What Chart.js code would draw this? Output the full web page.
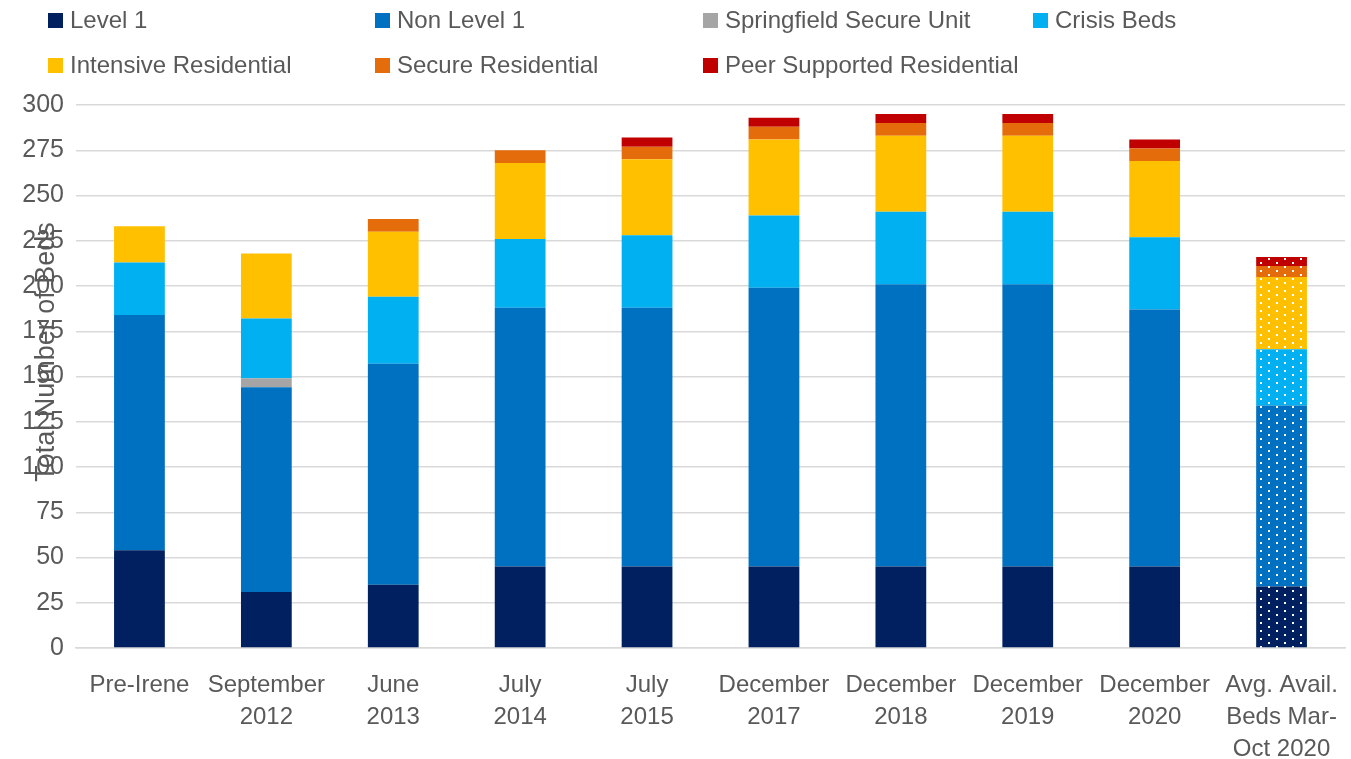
<!DOCTYPE html>
<html>
<head>
<meta charset="utf-8">
<title>Total Number of Beds</title>
<script src="https://cdn.jsdelivr.net/npm/chart.js@4/dist/chart.umd.min.js"></script>
<style>
  html, body { margin: 0; padding: 0; background: #ffffff; }
  canvas { display: block; }
</style>
</head>
<body>
<canvas id="beds" width="1351" height="759"></canvas>
<script>
// Bed counts by program type, stacked per period
const categories = [
  "Pre-Irene",
  ["September", "2012"],
  ["June", "2013"],
  ["July", "2014"],
  ["July", "2015"],
  ["December", "2017"],
  ["December", "2018"],
  ["December", "2019"],
  ["December", "2020"],
  ["Avg. Avail.", "Beds Mar-", "Oct 2020"]
];
const level1      = [54, 31, 35, 45, 45, 45, 45, 45, 45, 34];
const nonLevel1   = [130, 113, 122, 143, 143, 154, 156, 156, 142, 100];
const springfield = [null, 5, null, null, null, null, null, null, null, null];
const crisisBeds  = [29, 33, 37, 38, 40, 40, 40, 40, 40, 31];
const intensive   = [20, 36, 36, 42, 42, 42, 42, 42, 42, 40];
const secure      = [null, null, 7, 7, 7, 7, 7, 7, 7, 6];
const peer        = [null, null, null, null, 5, 5, 5, 5, 5, 5];
const yTicks      = [0, 25, 50, 75, 100, 125, 150, 175, 200, 225, 250, 275, 300];
const yTitle      = "Total Number of Beds";

const FONT = "'Liberation Sans', Arial, sans-serif";
const TEXT = "#595959";
const GRID = "#d9d9d9";

const series = [
  { label: "Level 1", data: level1, color: "#002060" },
  { label: "Non Level 1", data: nonLevel1, color: "#0070C0" },
  { label: "Springfield Secure Unit", data: springfield, color: "#A5A5A5" },
  { label: "Crisis Beds", data: crisisBeds, color: "#00B0F0" },
  { label: "Intensive Residential", data: intensive, color: "#FFC000" },
  { label: "Secure Residential", data: secure, color: "#E46C0A" },
  { label: "Peer Supported Residential", data: peer, color: "#C00000" }
];

// White dotted fill used for the average-availability column
function dotted(color) {
  const tile = document.createElement("canvas");
  tile.width = 16; tile.height = 8;
  const t = tile.getContext("2d");
  t.fillStyle = color;
  t.fillRect(0, 0, 16, 8);
  t.fillStyle = "#ffffff";
  t.fillRect(4, 2, 2, 2);
  t.fillRect(12, 6, 2, 2);
  return t.createPattern(tile, "repeat");
}

const lastIndex = categories.length - 1;
const datasets = series.map(s => ({
  label: s.label,
  data: s.data,
  backgroundColor: categories.map((_, i) => i === lastIndex ? dotted(s.color) : s.color),
  legendColor: s.color,
  borderWidth: 0,
  categoryPercentage: 1.0,
  barPercentage: 0.4
}));

// Legend laid out as a two-row grid above the plot
const legendGrid = {
  id: "legendGrid",
  afterDraw(chart) {
    const ctx = chart.ctx;
    const cols = [48, 375, 703, 1033];
    const rows = [20, 65];
    ctx.save();
    ctx.font = "24px " + FONT;
    ctx.textBaseline = "middle";
    ctx.textAlign = "left";
    chart.data.datasets.forEach((ds, i) => {
      const x = cols[i < 4 ? i : i - 4];
      const y = rows[i < 4 ? 0 : 1];
      ctx.fillStyle = ds.legendColor;
      ctx.fillRect(x, y - 7, 15, 15);
      ctx.fillStyle = TEXT;
      ctx.fillText(ds.label, x + 22, y + 1);
    });
    ctx.restore();
  }
};

// Rotated y-axis title, drawn over the tick labels
const axisTitle = {
  id: "axisTitle",
  afterDraw(chart) {
    const ctx = chart.ctx;
    ctx.save();
    ctx.translate(47, 352);
    ctx.rotate(-Math.PI / 2);
    ctx.font = "27px " + FONT;
    ctx.fillStyle = TEXT;
    ctx.textAlign = "center";
    ctx.textBaseline = "middle";
    ctx.fillText(yTitle, 0, 0);
    ctx.restore();
  }
};

new Chart(document.getElementById("beds"), {
  type: "bar",
  data: { labels: categories, datasets },
  plugins: [legendGrid, axisTitle],
  options: {
    responsive: false,
    animation: false,
    layout: { padding: { left: 0, right: 6, top: 105, bottom: 0 } },
    plugins: { legend: { display: false }, tooltip: { enabled: false } },
    scales: {
      x: {
        stacked: true,
        grid: { display: false, drawTicks: false },
        border: { display: true, color: GRID, width: 1.5 },
        ticks: {
          color: TEXT,
          font: { family: FONT, size: 24, lineHeight: 1.34 },
          padding: 21,
          maxRotation: 0,
          autoSkip: false
        },
        afterFit(scale) {
          scale.height = 111;
          scale.paddingLeft = 0;
          scale.paddingRight = 0;
        }
      },
      y: {
        stacked: true,
        min: 0,
        max: 300,
        afterBuildTicks(scale) { scale.ticks = yTicks.map(v => ({ value: v })); },
        grid: { color: GRID, lineWidth: 1.5, drawTicks: false },
        border: { display: false },
        ticks: {
          color: TEXT,
          font: { family: FONT, size: 25 },
          padding: 12
        },
        afterFit(scale) { scale.width = 76; }
      }
    }
  }
});
</script>
</body>
</html>
